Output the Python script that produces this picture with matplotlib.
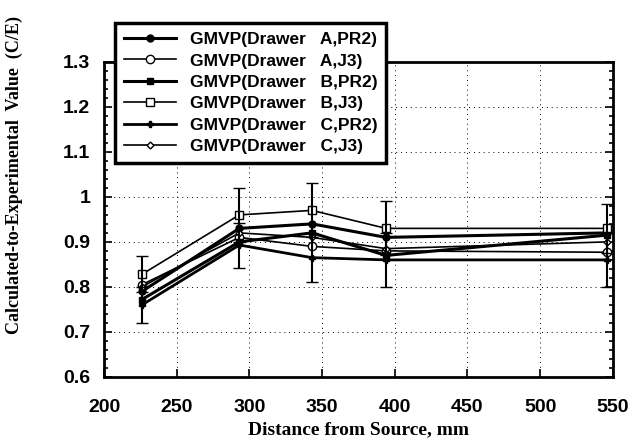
import matplotlib
matplotlib.use("Agg")
import matplotlib.pyplot as plt
from matplotlib.ticker import MultipleLocator

# distance from source, mm
distance = [226, 293, 343, 394, 546]

# C/E values
a_pr2 = [0.790, 0.930, 0.940, 0.910, 0.920]
a_j3 = [0.805, 0.910, 0.890, 0.880, 0.877]
b_pr2 = [0.772, 0.900, 0.920, 0.870, 0.915]
b_j3 = [0.828, 0.960, 0.970, 0.930, 0.930]
c_pr2 = [0.760, 0.893, 0.865, 0.860, 0.860]
c_j3 = [0.800, 0.920, 0.910, 0.885, 0.900]

# uncertainty bars
err_b_j3 = [0.040, 0.060, 0.060, 0.060, 0.055]
err_c_pr2 = [0.040, 0.050, 0.055, 0.060, 0.060]

labels = ["GMVP(Drawer   A,PR2)", "GMVP(Drawer   A,J3)",
          "GMVP(Drawer   B,PR2)", "GMVP(Drawer   B,J3)",
          "GMVP(Drawer   C,PR2)", "GMVP(Drawer   C,J3)"]

yticks = [0.6, 0.7, 0.8, 0.9, 1.0, 1.1, 1.2, 1.3]
ytick_labels = ["0.6", "0.7", "0.8", "0.9", "1", "1.1", "1.2", "1.3"]
xticks = [200, 250, 300, 350, 400, 450, 500, 550]

fig = plt.figure(figsize=(6.43, 4.45), dpi=100)
ax = fig.add_axes([0.162, 0.153, 0.791, 0.708])

ax.plot(distance, a_pr2, "k-", marker="o", ms=5, lw=2.2, label=labels[0])
ax.plot(distance, a_j3, "k-", marker="o", ms=6, mfc="white", lw=1.2, label=labels[1])
ax.plot(distance, b_pr2, "k-", marker="s", ms=5, lw=2.2, label=labels[2])
ax.plot(distance, b_j3, "k-", marker="s", ms=6, mfc="white", lw=1.2, label=labels[3])
ax.plot(distance, c_pr2, "k-", marker="P", ms=4, lw=2.0, label=labels[4])
ax.plot(distance, c_j3, "k-", marker="D", ms=3.5, mfc="white", lw=1.2, label=labels[5])

ax.errorbar(distance, b_j3, yerr=err_b_j3, fmt="none", ecolor="k", elinewidth=1.5, capsize=4)
ax.errorbar(distance, c_pr2, yerr=err_c_pr2, fmt="none", ecolor="k", elinewidth=1.5, capsize=4)

ax.set_xlim(200, 550)
ax.set_ylim(0.6, 1.3)
ax.set_xticks(xticks)
ax.set_xticklabels([str(x) for x in xticks], fontfamily="Liberation Sans",
                   fontweight="bold", fontsize=14)
ax.set_yticks(yticks)
ax.set_yticklabels(ytick_labels, fontfamily="Liberation Sans",
                   fontweight="bold", fontsize=14)
ax.yaxis.set_minor_locator(MultipleLocator(0.02))
ax.tick_params(direction="in", which="both", right=True, top=False, width=1.2)
ax.tick_params(axis="x", which="major", length=6, pad=16)
ax.tick_params(axis="y", which="major", length=6, pad=10)
ax.tick_params(which="minor", length=3)
ax.grid(True, color="k", ls=(0, (1, 4)), lw=0.7)
for s in ax.spines.values():
    s.set_linewidth(2)

ax.set_xlabel("Distance from Source, mm", fontfamily="Liberation Serif",
              fontweight="bold", fontsize=14, labelpad=4)
ax.set_ylabel("Calculated-to-Experimental  Value  (C/E)", fontfamily="Liberation Serif",
              fontweight="bold", fontsize=13)
ax.yaxis.set_label_coords(-0.16, 0.64)

leg = ax.legend(loc="upper left", bbox_to_anchor=(0.004, 1.15), fancybox=False,
                shadow=False, framealpha=1, edgecolor="k", handlelength=3.0,
                borderpad=0.5, labelspacing=0.36, prop={"family": "Liberation Sans",
                                                       "weight": "bold", "size": 12.5})
leg.get_frame().set_linewidth(2.5)
leg.set_zorder(5)

fig.savefig("out.png", dpi=100)
